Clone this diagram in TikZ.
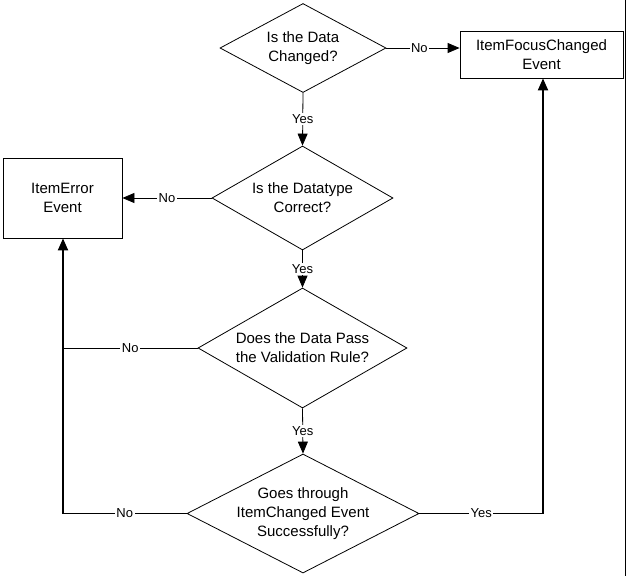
\documentclass[tikz,border=0pt]{standalone}
\usepackage{fontspec}
\setmainfont{Liberation Sans}
\usetikzlibrary{shapes.geometric,arrows.meta}
\begin{document}
\begin{tikzpicture}[x=1pt,y=-1pt,
  dec/.style={draw,shape=diamond,inner sep=0pt,line width=0.8pt},
  box/.style={draw,rectangle,inner sep=0pt,line width=0.8pt,align=center,font=\fontsize{15}{19}\selectfont},
  txt/.style={align=center,inner sep=0pt,font=\fontsize{15}{19}\selectfont},
  lbl/.style={fill=white,inner sep=1.5pt,font=\fontsize{13}{15}\selectfont},
  thinline/.style={line width=0.8pt},
  heavyline/.style={line width=2pt},
  tip/.style={-{Triangle[length=12pt,width=10pt]}}
]
\useasboundingbox (0,0) rectangle (627,576);
\fill[white] (0,0) rectangle (627,576);

% decisions
\node[dec,minimum width=166pt,minimum height=89pt] (d1) at (303,48) {};
\node[txt] (t1) at (d1.center) {Is the Data\\Changed?};
\node[dec,minimum width=181pt,minimum height=104pt] (d2) at (302.5,198) {};
\node[txt] (t2) at (d2.center) {Is the Datatype\\Correct?};
\node[dec,minimum width=209pt,minimum height=120pt] (d3) at (302.5,348) {};
\node[txt] (t3) at (d3.center) {Does the Data Pass\\the Validation Rule?};
\node[dec,minimum width=232pt,minimum height=119pt] (d4) at (303,513.5) {};
\node[txt] (t4) at (d4.center) {Goes through\\ItemChanged Event\\Successfully?};

% events
\node[box,minimum width=163pt,minimum height=47pt] (b1) at (541.5,54.5) {ItemFocusChanged\\Event};
\node[box,minimum width=119pt,minimum height=80pt] (b2) at (62.5,198) {ItemError\\Event};

% helper points
\coordinate (cL) at (63,513.5);
\coordinate (cR) at (543,513.5);
\coordinate (f1) at (625.5,0);
\coordinate (f2) at (625.5,576);

% connectors
\draw[thinline,tip] (d1.east) -- node[lbl,pos=0.45]{No} (d1.east -| b1.west);
\draw[thinline,tip] (d1.south) -- node[lbl]{Yes} (d2.north);
\draw[thinline,tip] (d2.west) -- node[lbl]{No} (d2.west -| b2.east);
\draw[thinline,tip] (d2.south) -- node[lbl]{Yes} (d3.north);
\draw[thinline,tip] (d3.south) -- node[lbl]{Yes} (d4.north);
\draw[thinline] (d3.west) -- node[lbl]{No} (d3.west -| cL);
\draw[thinline] (d4.west) -- node[lbl]{No} (cL);
\draw[thinline] (d4.east) -- node[lbl]{Yes} (cR);
\draw[heavyline,tip] (cL) -- (cL |- b2.south);
\draw[heavyline,tip] (cR) -- (cR |- b1.south);
\draw[line width=1pt] (f1) -- (f2);
\end{tikzpicture}
\end{document}
